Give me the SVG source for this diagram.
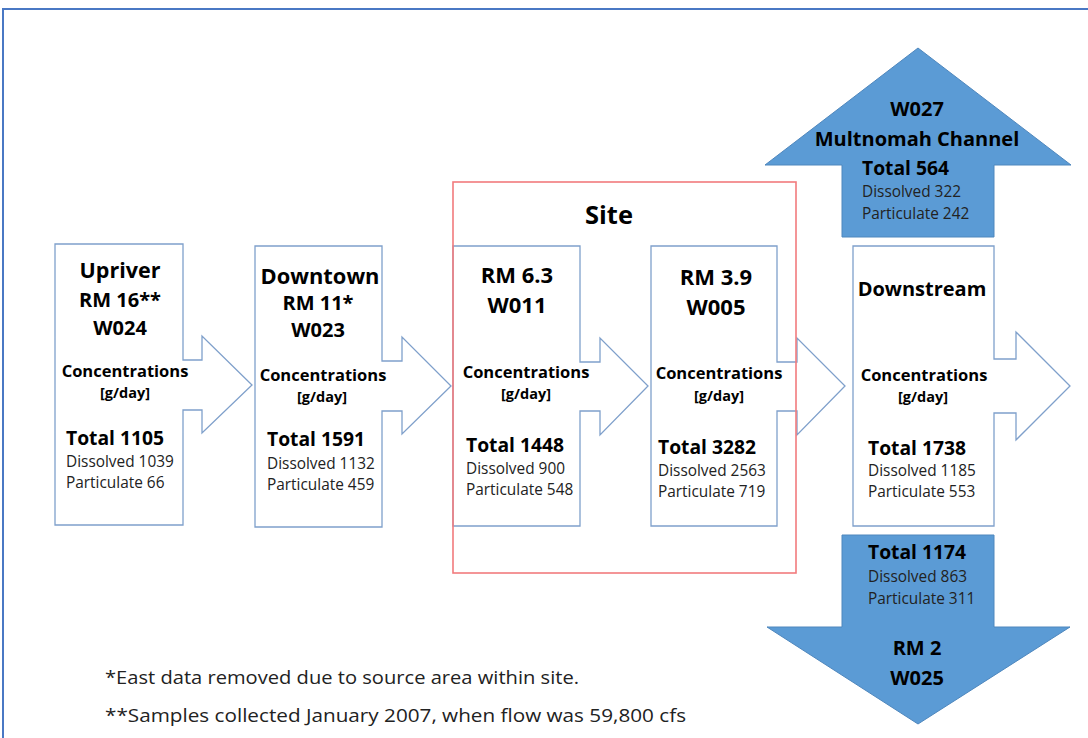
<svg xmlns="http://www.w3.org/2000/svg" width="1088" height="738" viewBox="0 0 1088 738">
<style>
text{font-family:"Open Sans","Noto Sans","Liberation Sans",sans-serif;fill:#000}
.box{fill:#fff;stroke:#7fa0cb;stroke-width:1.3}
.blue{fill:#5b9bd5;stroke:#4f87bd;stroke-width:1}
.h{font-weight:700;font-size:21.5px;text-anchor:middle}
.m{font-size:20px}
.c{font-weight:700;font-size:16.5px;text-anchor:middle}
.g{font-weight:700;font-size:14.5px;text-anchor:middle}
.t{font-weight:700;font-size:19.3px}
.s{font-size:15.4px;fill:#222}
.fn{font-size:18.5px;fill:#222}
</style>
<rect x="3" y="9" width="1100" height="740" fill="#fff" stroke="#4a78c4" stroke-width="2"/>
<g id="connectors"/>
<g id="upriver">
<polygon class="box" points="55,244 183,244 183,360 202,360 202,336 252,385 202,433 202,410 183,410 183,525 55,525"/>
<text class="h" x="120" y="278">Upriver</text>
<text class="h m" x="120" y="307">RM 16**</text>
<text class="h m" x="120" y="335">W024</text>
<text class="c" x="125" y="377">Concentrations</text>
<text class="g" x="125" y="398">[g/day]</text>
<text class="t" x="66" y="445">Total 1105</text>
<text class="s" x="66" y="467">Dissolved 1039</text>
<text class="s" x="66" y="488">Particulate 66</text>
</g>
<g id="downtown">
<polygon class="box" points="255,246 382,246 382,361 402,361 402,337 451,386 402,434 402,411 382,411 382,527 255,527"/>
<text class="h" x="320" y="284" textLength="119" lengthAdjust="spacingAndGlyphs">Downtown</text>
<text class="h m" x="318" y="310">RM 11*</text>
<text class="h m" x="318" y="337">W023</text>
<text class="c" x="323" y="381">Concentrations</text>
<text class="g" x="322" y="402">[g/day]</text>
<text class="t" x="267" y="446">Total 1591</text>
<text class="s" x="267" y="469">Dissolved 1132</text>
<text class="s" x="267" y="490">Particulate 459</text>
</g>
<g id="rm63">
<polygon class="box" points="453,246 580,246 580,362 600,362 600,338 648,386 600,435 600,411 580,411 580,526 453,526"/>
<text class="h" x="517" y="283" style="font-size:22px">RM 6.3</text>
<text class="h" x="517" y="313" style="font-size:22px">W011</text>
<text class="c" x="526" y="378">Concentrations</text>
<text class="g" x="526" y="399">[g/day]</text>
<text class="t" x="466" y="452">Total 1448</text>
<text class="s" x="466" y="474">Dissolved 900</text>
<text class="s" x="466" y="495">Particulate 548</text>
</g>
<g id="rm39">
<polygon class="box" points="651,246 777,246 777,362 797,362 797,338 845,386 797,435 797,411 777,411 777,526 651,526"/>
<text class="h" x="716" y="285" style="font-size:22px">RM 3.9</text>
<text class="h" x="716" y="315" style="font-size:22px">W005</text>
<text class="c" x="719" y="379">Concentrations</text>
<text class="g" x="719" y="401">[g/day]</text>
<text class="t" x="658" y="454">Total 3282</text>
<text class="s" x="658" y="476">Dissolved 2563</text>
<text class="s" x="658" y="497">Particulate 719</text>
</g>
<g id="site">
<rect x="453" y="182" width="343" height="391" fill="none" stroke="#f27b7d" stroke-width="1.6"/>
<text x="609" y="224" style="font-weight:700;font-size:25.5px;text-anchor:middle">Site</text>
</g>
<g id="downstream">
<polygon class="box" points="853,246 994,246 994,359 1016,359 1016,332 1070,386 1016,440 1016,413 994,413 994,526 853,526"/>
<text class="h" x="922" y="296" style="font-size:20px">Downstream</text>
<text class="c" x="924" y="381">Concentrations</text>
<text class="g" x="923" y="402">[g/day]</text>
<text class="t" x="868" y="455">Total 1738</text>
<text class="s" x="868" y="476">Dissolved 1185</text>
<text class="s" x="868" y="497">Particulate 553</text>
</g>
<g id="w027">
<polygon class="blue" points="918,48 1071,165 994,165 994,237 842,237 842,165 765,165"/>
<text class="h m" x="917" y="116">W027</text>
<text class="h m" x="917" y="146">Multnomah Channel</text>
<text class="t" x="862" y="175">Total 564</text>
<text class="s" x="862" y="197">Dissolved 322</text>
<text class="s" x="862" y="219">Particulate 242</text>
</g>
<g id="w025">
<polygon class="blue" points="842,535 994,535 994,627 1070,627 918,724 767,627 842,627"/>
<text class="t" x="868" y="559">Total 1174</text>
<text class="s" x="868" y="582">Dissolved 863</text>
<text class="s" x="868" y="604">Particulate 311</text>
<text class="h m" x="917" y="655">RM 2</text>
<text class="h m" x="917" y="685">W025</text>
</g>
<g id="notes">
<text class="fn" x="105" y="684" textLength="474" lengthAdjust="spacingAndGlyphs">*East data removed due to source area within site.</text>
<text class="fn" x="105" y="722" textLength="581" lengthAdjust="spacingAndGlyphs">**Samples collected January 2007, when flow was 59,800 cfs</text>
</g>
</svg>
